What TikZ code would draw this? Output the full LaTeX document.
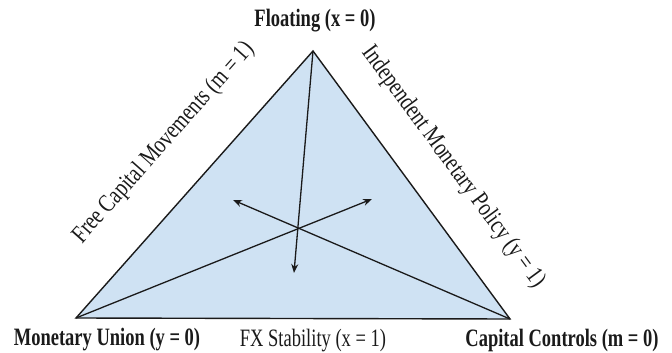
\documentclass[tikz,border=0pt]{standalone}
\usepackage{fontspec}
\setmainfont{Liberation Serif}
\newfontfamily\narrowserif[FakeStretch=0.74]{Liberation Serif}
\newfontfamily\sideserif[FakeStretch=0.79]{Liberation Serif}
\usepackage{xcolor}
\definecolor{tfill}{HTML}{CFE2F3}
\definecolor{ink}{HTML}{1A1A1A}
\usepackage{tikz}
\usetikzlibrary{arrows.meta,calc}
\tikzset{
  >={Stealth[length=9pt,width=7pt]},
  tri/.style={draw=ink,fill=tfill,line width=1.4pt,line join=miter},
  vlab/.style={font=\narrowserif\fontsize{25}{28}\selectfont\bfseries,text=ink,inner sep=0pt},
  elab/.style={font=\narrowserif\fontsize{25}{28}\selectfont,text=ink,inner sep=0pt},
  slab/.style={font=\sideserif\fontsize{25}{28}\selectfont,text=ink,inner sep=0pt},
  arr/.style={->,draw=ink,line width=1.3pt},
}
\begin{document}
\begin{tikzpicture}[x=1pt,y=-1pt]
\useasboundingbox (0,0) rectangle (672,353);
% corners of the trilemma
\coordinate (float) at (313,51);
\coordinate (union) at (76,318);
\coordinate (ctrl) at (510,319);
\filldraw[tri] (float) -- (union) -- (ctrl) -- cycle;
% arrow ends inside
\coordinate (tipF) at (294,273);
\coordinate (tipU) at (372,199);
\coordinate (tipC) at (233,200);
\draw[arr] (float) -- (tipF);
\draw[arr] (union) -- (tipU);
\draw[arr] (ctrl) -- (tipC);
% corner labels
\node[vlab] (lfloat) at (315,21) {Floating (x = 0)};
\node[vlab] (lunion) at (107,340) {Monetary Union (y = 0)};
\node[vlab] (lctrl) at (562,340) {Capital Controls (m = 0)};
% side labels
\node[elab] (lfx) at (313,341) {FX Stability (x = 1)};
\node[slab,rotate=48.4] (lfree) at (164,143) {Free Capital Movements (m = 1)};
\node[slab,rotate=-53.7] (lind) at (453,167) {Independent Monetary Policy (y = 1)};
\end{tikzpicture}
\end{document}
